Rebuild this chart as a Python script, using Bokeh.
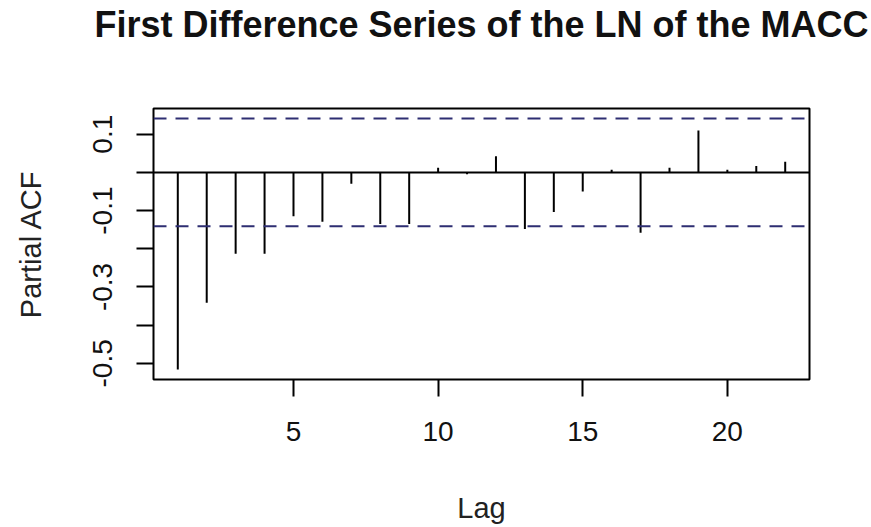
from bokeh.plotting import figure
from bokeh.models import FixedTicker, Span, ColumnDataSource, Range1d, LinearAxis
from bokeh.embed import file_html
from bokeh.resources import INLINE

# Partial autocorrelation of the differenced log series
lags = list(range(1, 23))
pacf = [-0.516, -0.341, -0.213, -0.213, -0.115, -0.129, -0.030, -0.135,
        -0.135, 0.012, -0.005, 0.042, -0.148, -0.104, -0.050, 0.007,
        -0.158, 0.012, 0.110, 0.007, 0.017, 0.028]
conf_limit = 0.141

x_ticks = [5, 10, 15, 20]
y_ticks = [-0.5, -0.4, -0.3, -0.2, -0.1, 0.0, 0.1]
y_labels = {-0.5: "-0.5", -0.4: "", -0.3: "-0.3", -0.2: "", -0.1: "-0.1", 0.0: "", 0.1: "0.1"}

# axis limits with 4% padding, as in R's default plotting
x_lo, x_hi = min(lags), max(lags)
x_pad = 0.04 * (x_hi - x_lo)
y_lo = min(min(pacf), -conf_limit)
y_hi = max(max(pacf), conf_limit)
y_pad = 0.04 * (y_hi - y_lo)

p = figure(width=871, height=527, output_backend="svg", toolbar_location=None,
           title=None,
           x_range=Range1d(x_lo - x_pad, x_hi + x_pad),
           y_range=Range1d(y_lo - y_pad, y_hi + y_pad),
           min_border_left=153, min_border_right=62,
           min_border_top=106, min_border_bottom=148)

# keep handles on the default bottom and left axes before adding the title axis
bottom_axis = p.below[0]
left_axis = p.left[0]

# main title, drawn as the label of a bare axis above the frame
title_axis = LinearAxis(ticker=FixedTicker(ticks=[]),
                        axis_line_color=None,
                        major_tick_out=0, major_tick_in=0,
                        major_label_standoff=0,
                        minor_tick_line_color=None,
                        axis_label="First Difference Series of the LN of the MACC",
                        axis_label_standoff=64,
                        axis_label_text_font="Liberation Sans",
                        axis_label_text_font_size="36px",
                        axis_label_text_font_style="bold",
                        axis_label_text_color="#111111")
p.add_layout(title_axis, "above")

p.grid.visible = False
p.outline_line_color = "black"
p.outline_line_width = 2
p.background_fill_color = "white"
p.border_fill_color = "white"

src = ColumnDataSource(dict(lag=lags, val=pacf, zero=[0.0] * len(lags)))
p.segment(x0="lag", y0="zero", x1="lag", y1="val", source=src,
          line_color="black", line_width=2)

p.add_layout(Span(location=0, dimension="width", line_color="black", line_width=2))
for loc in (conf_limit, -conf_limit):
    p.add_layout(Span(location=loc, dimension="width", line_color="#2e2e72",
                      line_width=2, line_dash="13 9"))

for ax in (bottom_axis, left_axis):
    ax.axis_line_color = None
    ax.major_tick_line_color = "black"
    ax.major_tick_line_width = 2
    ax.major_tick_out = 17
    ax.major_tick_in = 0
    ax.minor_tick_line_color = None
    ax.major_label_text_font = "Liberation Sans"
    ax.major_label_text_font_size = "28px"
    ax.major_label_text_color = "#111111"
    ax.axis_label_text_font = "Liberation Sans"
    ax.axis_label_text_font_size = "29px"
    ax.axis_label_text_font_style = "normal"
    ax.axis_label_text_color = "#222222"

bottom_axis.ticker = FixedTicker(ticks=x_ticks)
bottom_axis.axis_label = "Lag"
bottom_axis.major_label_standoff = 25
bottom_axis.axis_label_standoff = 48

left_axis.ticker = FixedTicker(ticks=y_ticks)
left_axis.major_label_overrides = y_labels
left_axis.major_label_orientation = "vertical"
left_axis.axis_label = "Partial ACF"
left_axis.major_label_standoff = 24
left_axis.axis_label_standoff = 44

open("out.html", "w").write(file_html(p, INLINE))
